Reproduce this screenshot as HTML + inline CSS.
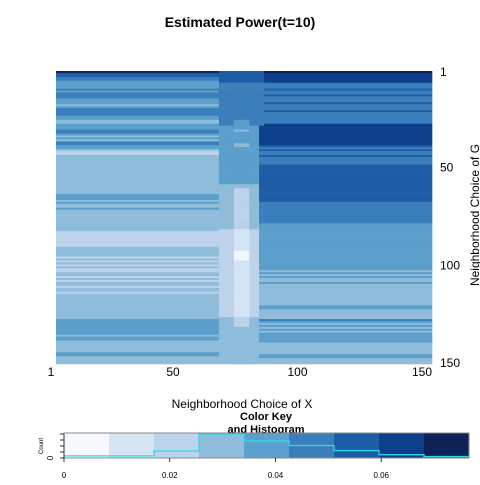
<!DOCTYPE html>
<html><head><meta charset="utf-8"><style>
body{margin:0;background:#fff;}
svg text{font-family:"Liberation Sans",sans-serif;}
</style></head><body>
<svg id="c" width="480" height="480"></svg>
<script>
// run-length level data: [level, rowCount]
const leftRuns=[[9,1],[7,2],[6,2],[5,4],[6,1],[5,1],[6,3],[5,3],[4,1],[5,1],[6,4],[5,2],[4,2],[5,3],[6,2],[5,1],[4,1],[5,1],[4,1],[6,2],[5,2],[4,1],[3,2],[4,20],[5,3],[4,1],[5,1],[4,2],[5,1],[4,11],[3,8],[4,5],[3,1],[4,1],[3,1],[4,1],[3,1],[4,1],[3,2],[4,2],[3,1],[4,1],[3,1],[4,2],[3,1],[4,2],[3,1],[4,13],[5,8],[4,1],[5,2],[4,6],[5,2],[4,5]];
const rightRuns=[[9,1],[8,5],[6,3],[7,1],[6,2],[7,1],[6,3],[7,1],[6,3],[7,1],[6,6],[8,11],[7,1],[6,1],[7,1],[6,2],[7,1],[6,4],[7,19],[6,11],[5,24],[4,1],[5,1],[4,1],[5,1],[4,2],[5,1],[4,11],[5,2],[4,5],[6,1],[5,1],[4,1],[5,1],[4,1],[5,1],[4,1],[5,5],[4,6],[5,2],[4,3]];
const midRuns=[[7,6],[6,22],[5,30],[4,23],[3,45],[4,24]];
const coreRuns=[[7,6],[6,19],[5,5],[4,1],[5,6],[4,2],[5,19],[4,2],[3,21],[2,11],[1,5],[2,29],[3,5],[4,19]];
const histCounts=[0.05,0.05,0.26,1.0,0.7,0.5,0.28,0.1,0.02];
const keyTicks=[0,0.02,0.04,0.06];
const xTicks=[1,50,100,150];
const yTicks=[1,50,100,150];
const palette=["#F5F9FD","#D6E5F4","#BDD3EB","#8FBCDB","#5B9FCC","#3A7FBB","#1D5DA6","#0C3F8A","#0E2258"];
function expand(runs){const o=[];runs.forEach(([v,n])=>{for(let i=0;i<n;i++)o.push(v);});return o;}
const leftLevels=expand(leftRuns),rightLevels=expand(rightRuns),midLevels=expand(midRuns),coreLevels=expand(coreRuns);
const NS="http://www.w3.org/2000/svg",svg=document.getElementById('c');
function mk(t,a,p){const e=document.createElementNS(NS,t);for(const k in a)e.setAttribute(k,a[k]);(p||svg).appendChild(e);return e;}
const X0=56,X1=432,Y0=71,Y1=364,N=150;
const cw=(X1-X0)/N,rh=(Y1-Y0)/N;
const hm=mk('g',{});


function seg(r,c0,c1,lv){if(lv===undefined)return;const e=mk('rect',{x:X0+c0*cw,y:Y0+r*rh,width:(c1-c0)*cw+0.3,height:rh+0.3,fill:palette[lv-1]},hm);

}
for(let r=0;r<N;r++){
  const mEnd=r<28?83:81;
  seg(r,0,65,leftLevels[r]);
  seg(r,65,mEnd,midLevels[r]);
  seg(r,71,77,coreLevels[r]);
  seg(r,mEnd,N,rightLevels[r]);
}
function txt(s,x,y,a,name){const e=mk('text',Object.assign({x:x,y:y,'font-size':12},a||{}));e.textContent=s;

return e;}
txt('Estimated Power(t=10)',240,27,{'text-anchor':'middle','font-weight':'bold','font-size':14},'chart-title');
const xPos=v=>51+(v-1)*(371/149);
xTicks.forEach(v=>txt(String(v),xPos(v),376,{'text-anchor':'middle'},'x-tick-label'));
const yPos=v=>72+(v-1)*(291/149);
yTicks.forEach(v=>txt(String(v),440,yPos(v)+4,{},'y-tick-label'));
txt('Neighborhood Choice of G',479,215,{'text-anchor':'middle',transform:'rotate(-90 479 215)'},'y-axis-title');
txt('Neighborhood Choice of X',242,408,{'text-anchor':'middle'},'x-axis-title');
txt('Color Key',266,420,{'text-anchor':'middle','font-weight':'bold','font-size':11},'key-title');
txt('and Histogram',266,433,{'text-anchor':'middle','font-weight':'bold','font-size':11},'key-subtitle');
const K0=64,K1=469,KT=433,KB=458,vmax=0.0766;
const kx=v=>K0+v/vmax*(K1-K0);
const bw=(K1-K0)/9;
palette.forEach((c,i)=>{const e=mk('rect',{x:K0+i*bw,y:KT,width:bw+0.3,height:KB-KT,fill:c});

});
let d='';histCounts.forEach((h,i)=>{const y=KB-1-h*(KB-KT-2);d+=(i?'L':'M')+(K0+i*bw)+' '+y+'L'+(K0+(i+1)*bw)+' '+y;});
const hl=mk('path',{d:d,fill:'none',stroke:'#2fd8e8','stroke-width':1.3});


const kb=mk('rect',{x:K0,y:KT,width:K1-K0,height:KB-KT,fill:'none',stroke:'#888'});


keyTicks.forEach(v=>{mk('line',{x1:kx(v),x2:kx(v),y1:KB,y2:KB+4,stroke:'#333'});
txt(String(v),kx(v),478,{'text-anchor':'middle','font-size':8},'key-tick-label');});
mk('line',{x1:64,x2:64,y1:434,y2:458,stroke:'#333'});
[434,440,446,452,458].forEach(y=>mk('line',{x1:60,x2:64,y1:y,y2:y,stroke:'#333'}));
txt('0',53,458,{'text-anchor':'middle','font-size':8,transform:'rotate(-90 53 458)'},'key-y-zero');
txt('Count',43,446,{'text-anchor':'middle','font-size':6,transform:'rotate(-90 43 446)'},'key-y-title');
</script>
</body></html>
